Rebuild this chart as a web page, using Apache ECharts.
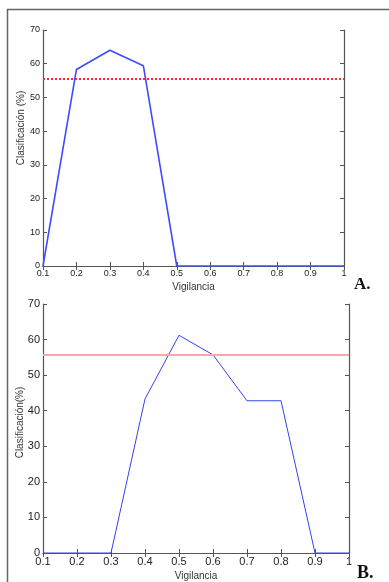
<!DOCTYPE html>
<html><head><meta charset="utf-8">
<script src="https://cdn.jsdelivr.net/npm/echarts@6/dist/echarts.min.js"></script>
<style>html,body{margin:0;padding:0;background:#fff}#c{width:389px;height:582px}</style>
</head><body><div id="c"></div>
<script>
const vigilancia = ['0.1','0.2','0.3','0.4','0.5','0.6','0.7','0.8','0.9','1'];
const clasifA = [0, 58.3, 64.0, 59.4, 0, 0, 0, 0, 0, 0];
const clasifB = [0, 0, 0, 43.3, 61.2, 55.7, 42.8, 42.8, 0, 0];
const umbralA = 55.5;
const umbralB = 55.7;
const yTicks = [0, 10, 20, 30, 40, 50, 60, 70];

const chart = echarts.init(document.getElementById('c'), null, {renderer: 'canvas'});
const axisCol = '#555';
function xAx(grid, pos, show, fs) {
  return {type:'category', data: vigilancia, gridIndex: grid, position: pos, boundaryGap:false,
    axisLine:{show:true, lineStyle:{color:axisCol, width:1.2}},
    axisTick:{show:true, inside:true, length:4, alignWithLabel:true, lineStyle:{color:axisCol}},
    axisLabel:{show:show, color:'#222', fontSize:fs, margin:3, fontFamily: grid===0 ? 'Liberation Sans Narrow, Arial' : 'Liberation Sans, Arial'},
    splitLine:{show:false}};
}
function yAx(grid, pos, show, fs) {
  return {type:'value', gridIndex: grid, position: pos, min: yTicks[0], max: yTicks[yTicks.length-1], interval: 10,
    axisLine:{show:true, lineStyle:{color:axisCol, width:1.2}},
    axisTick:{show:true, inside:true, length:4, lineStyle:{color:axisCol}},
    axisLabel:{show:show, color:'#222', fontSize:fs, margin:3, fontFamily: grid===0 ? 'Liberation Sans Narrow, Arial' : 'Liberation Sans, Arial'},
    splitLine:{show:false}};
}
const xa0 = xAx(0,'bottom',true,9); xa0.name='Vigilancia'; xa0.nameLocation='middle'; xa0.nameGap=16;
xa0.nameTextStyle={fontSize:10, color:'#333', fontFamily:'Liberation Sans Narrow, Arial'};
const xa1 = xAx(1,'bottom',true,11); xa1.name='Vigilancia'; xa1.nameLocation='middle'; xa1.nameGap=18;
xa1.nameTextStyle={fontSize:10, color:'#333', fontFamily:'Liberation Sans, Arial'};
const ya0 = yAx(0,'left',true,9); ya0.name='Clasificación (%)'; ya0.nameLocation='middle'; ya0.nameGap=17; ya0.nameMoveOverlap=false;
ya0.nameTextStyle={fontSize:10, color:'#333', fontFamily:'Liberation Sans Narrow, Arial', padding:[0,0,0,40]};
const ya1 = yAx(1,'left',true,11); ya1.name='Clasificación(%)'; ya1.nameLocation='middle'; ya1.nameGap=18; ya1.nameMoveOverlap=false;
ya1.nameTextStyle={fontSize:10, color:'#333', fontFamily:'Liberation Sans, Arial', padding:[0,0,0,12]};

chart.setOption({
  animation:false,
  grid:[{left:43, top:30, width:301, height:236},{left:43, top:304, width:306, height:250}],
  xAxis:[xa0, xa1, xAx(0,'top',false,9), xAx(1,'top',false,11)],
  yAxis:[ya0, ya1, yAx(0,'right',false,9), yAx(1,'right',false,11)],
  graphic:[
    {type:'line', shape:{x1:7.5,y1:9,x2:7.5,y2:582}, style:{stroke:'#666', lineWidth:1.5}},
    {type:'line', shape:{x1:7,y1:9.5,x2:389,y2:9.5}, style:{stroke:'#666', lineWidth:1.5}},
    {type:'text', left:354, top:276, style:{text:'A.', font:'bold 17px "Liberation Serif", serif', fill:'#111'}},
    {type:'text', left:357, top:564, style:{text:'B.', font:'bold 18px "Liberation Serif", serif', fill:'#111'}}
  ],
  series:[
    {type:'line', xAxisIndex:0, yAxisIndex:0, data:clasifA, symbol:'none', lineStyle:{color:'#3d4dff', width:1.6},
     markLine:{silent:true, symbol:'none', label:{show:false}, data:[{yAxis:umbralA}], lineStyle:{color:'#ff2a2a', type:'dotted', width:2}}},
    {type:'line', xAxisIndex:1, yAxisIndex:1, data:clasifB, symbol:'none', lineStyle:{color:'#3344ee', width:1},
     markLine:{silent:true, symbol:'none', label:{show:false}, data:[{yAxis:umbralB}], lineStyle:{color:'#f5a8a8', type:'solid', width:2}}}
  ]
});
</script></body></html>
